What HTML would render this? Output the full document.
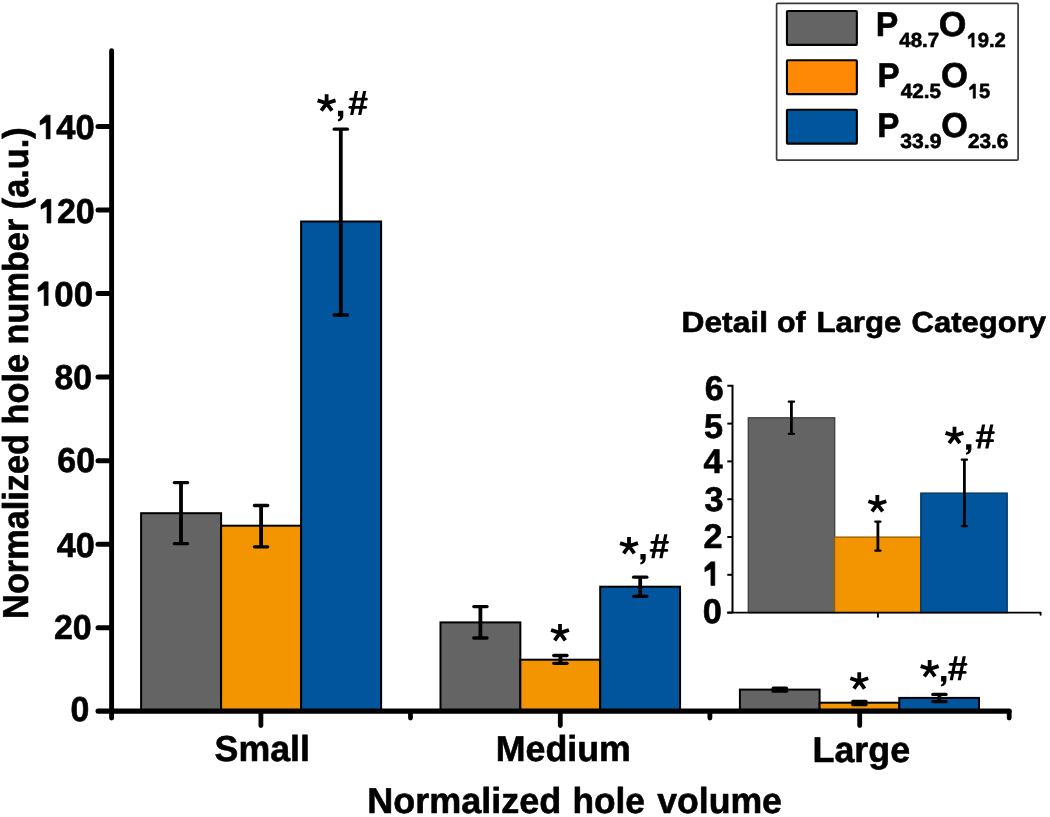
<!DOCTYPE html>
<html><head><meta charset="utf-8"><style>
html,body{margin:0;padding:0;background:#fff;}
svg{display:block;}
text{font-family:"Liberation Sans",sans-serif;font-weight:bold;fill:#000;text-rendering:geometricPrecision;stroke:#000;stroke-width:0.6px;stroke-linejoin:round;}
.g1{stroke:#000;stroke-width:0.6px;stroke-linejoin:round;}
</style></head><body>
<svg style="will-change:transform" width="1050" height="817" viewBox="0 0 1050 817">
<rect width="1050" height="817" fill="#fff"/>
<rect x="141.10" y="513.20" width="80" height="198.10" fill="#646464" stroke="#000" stroke-width="2"/>
<rect x="221.10" y="525.70" width="80" height="185.60" fill="#F39500" stroke="#000" stroke-width="2"/>
<rect x="301.10" y="221.50" width="80" height="489.80" fill="#00559C" stroke="#000" stroke-width="2"/>
<rect x="440.50" y="622.40" width="79.85" height="88.90" fill="#646464" stroke="#000" stroke-width="2"/>
<rect x="520.35" y="659.70" width="79.85" height="51.60" fill="#F39500" stroke="#000" stroke-width="2"/>
<rect x="600.20" y="586.70" width="79.85" height="124.60" fill="#00559C" stroke="#000" stroke-width="2"/>
<rect x="739.90" y="689.60" width="79.7" height="21.70" fill="#646464" stroke="#000" stroke-width="2"/>
<rect x="819.60" y="702.70" width="79.7" height="8.60" fill="#F39500" stroke="#000" stroke-width="2"/>
<rect x="899.30" y="697.90" width="79.7" height="13.40" fill="#00559C" stroke="#000" stroke-width="2"/>
<line x1="111.6" y1="50.8" x2="111.6" y2="718" stroke="#000" stroke-width="4.9" stroke-linecap="round"/>
<line x1="98" y1="711.1" x2="1009.2" y2="711.1" stroke="#000" stroke-width="5.1" stroke-linecap="round"/>
<line x1="98" y1="627.75" x2="111" y2="627.75" stroke="#000" stroke-width="5.0" stroke-linecap="round"/>
<line x1="98" y1="544.20" x2="111" y2="544.20" stroke="#000" stroke-width="5.0" stroke-linecap="round"/>
<line x1="98" y1="460.65" x2="111" y2="460.65" stroke="#000" stroke-width="5.0" stroke-linecap="round"/>
<line x1="98" y1="377.10" x2="111" y2="377.10" stroke="#000" stroke-width="5.0" stroke-linecap="round"/>
<line x1="98" y1="293.55" x2="111" y2="293.55" stroke="#000" stroke-width="5.0" stroke-linecap="round"/>
<line x1="98" y1="210.00" x2="111" y2="210.00" stroke="#000" stroke-width="5.0" stroke-linecap="round"/>
<line x1="98" y1="126.45" x2="111" y2="126.45" stroke="#000" stroke-width="5.0" stroke-linecap="round"/>
<line x1="260.9" y1="711.3" x2="260.9" y2="725.6" stroke="#000" stroke-width="4.8" stroke-linecap="round"/>
<line x1="560.3" y1="711.3" x2="560.3" y2="725.6" stroke="#000" stroke-width="4.8" stroke-linecap="round"/>
<line x1="859.7" y1="711.3" x2="859.7" y2="725.6" stroke="#000" stroke-width="4.8" stroke-linecap="round"/>
<line x1="410.5" y1="711.3" x2="410.5" y2="718.0" stroke="#000" stroke-width="4.8" stroke-linecap="round"/>
<line x1="709.9" y1="711.3" x2="709.9" y2="718.0" stroke="#000" stroke-width="4.8" stroke-linecap="round"/>
<line x1="1009.2" y1="711.3" x2="1009.2" y2="718.0" stroke="#000" stroke-width="4.8" stroke-linecap="round"/>
<line x1="181.0" y1="482.6" x2="181.0" y2="543.7" stroke="#000" stroke-width="3.8"/>
<line x1="174.40" y1="482.6" x2="187.60" y2="482.6" stroke="#000" stroke-width="3.3" stroke-linecap="round"/>
<line x1="174.40" y1="543.7" x2="187.60" y2="543.7" stroke="#000" stroke-width="3.3" stroke-linecap="round"/>
<line x1="261.1" y1="505.5" x2="261.1" y2="546.8" stroke="#000" stroke-width="3.8"/>
<line x1="254.50" y1="505.5" x2="267.70" y2="505.5" stroke="#000" stroke-width="3.3" stroke-linecap="round"/>
<line x1="254.50" y1="546.8" x2="267.70" y2="546.8" stroke="#000" stroke-width="3.3" stroke-linecap="round"/>
<line x1="340.8" y1="129.2" x2="340.8" y2="315.0" stroke="#000" stroke-width="3.8"/>
<line x1="334.20" y1="129.2" x2="347.40" y2="129.2" stroke="#000" stroke-width="3.3" stroke-linecap="round"/>
<line x1="334.20" y1="315.0" x2="347.40" y2="315.0" stroke="#000" stroke-width="3.3" stroke-linecap="round"/>
<line x1="480.4" y1="606.6" x2="480.4" y2="638.0" stroke="#000" stroke-width="3.8"/>
<line x1="473.80" y1="606.6" x2="487.00" y2="606.6" stroke="#000" stroke-width="3.3" stroke-linecap="round"/>
<line x1="473.80" y1="638.0" x2="487.00" y2="638.0" stroke="#000" stroke-width="3.3" stroke-linecap="round"/>
<line x1="560.4" y1="655.5" x2="560.4" y2="663.3" stroke="#000" stroke-width="3.8"/>
<line x1="553.80" y1="655.5" x2="567.00" y2="655.5" stroke="#000" stroke-width="3.3" stroke-linecap="round"/>
<line x1="553.80" y1="663.3" x2="567.00" y2="663.3" stroke="#000" stroke-width="3.3" stroke-linecap="round"/>
<line x1="640.2" y1="577.2" x2="640.2" y2="596.3" stroke="#000" stroke-width="3.8"/>
<line x1="633.60" y1="577.2" x2="646.80" y2="577.2" stroke="#000" stroke-width="3.3" stroke-linecap="round"/>
<line x1="633.60" y1="596.3" x2="646.80" y2="596.3" stroke="#000" stroke-width="3.3" stroke-linecap="round"/>
<line x1="779.8" y1="688.2" x2="779.8" y2="691.2" stroke="#000" stroke-width="3.8"/>
<line x1="773.20" y1="688.2" x2="786.40" y2="688.2" stroke="#000" stroke-width="3.3" stroke-linecap="round"/>
<line x1="773.20" y1="691.2" x2="786.40" y2="691.2" stroke="#000" stroke-width="3.3" stroke-linecap="round"/>
<line x1="859.4" y1="701.5" x2="859.4" y2="704.5" stroke="#000" stroke-width="3.8"/>
<line x1="852.80" y1="701.5" x2="866.00" y2="701.5" stroke="#000" stroke-width="3.3" stroke-linecap="round"/>
<line x1="852.80" y1="704.5" x2="866.00" y2="704.5" stroke="#000" stroke-width="3.3" stroke-linecap="round"/>
<line x1="939.4" y1="694.4" x2="939.4" y2="701.6" stroke="#000" stroke-width="3.8"/>
<line x1="932.80" y1="694.4" x2="946.00" y2="694.4" stroke="#000" stroke-width="3.3" stroke-linecap="round"/>
<line x1="932.80" y1="701.6" x2="946.00" y2="701.6" stroke="#000" stroke-width="3.3" stroke-linecap="round"/>
<g transform="translate(37.07,138.88)"><text x="0" y="0" font-size="34.5"> 40</text><path class="g1" d="M13.06,0.00L9.10,0.00L9.10,-16.80L3.03,-13.80L3.03,-18.08L9.10,-23.74L13.06,-23.74Z" fill="#000"/></g>
<g transform="translate(38.01,223.08) scale(0.9865,1)"><text x="0" y="0" font-size="34.5"> 20</text><path class="g1" d="M13.06,0.00L9.10,0.00L9.10,-16.80L3.03,-13.80L3.03,-18.08L9.10,-23.74L13.06,-23.74Z" fill="#000"/></g>
<g transform="translate(34.93,305.53) scale(1.0110,1)"><text x="0" y="0" font-size="34.5"> 00</text><path class="g1" d="M13.06,0.00L9.10,0.00L9.10,-16.80L3.03,-13.80L3.03,-18.08L9.10,-23.74L13.06,-23.74Z" fill="#000"/></g>
<text transform="translate(54.53,389.38) scale(0.9787,1)" font-size="34.5">80</text>
<text transform="translate(57.36,471.88) scale(0.9805,1)" font-size="34.5">60</text>
<text transform="translate(56.78,557.08) scale(0.9907,1)" font-size="34.5">40</text>
<text transform="translate(53.92,638.53) scale(0.9842,1)" font-size="34.5">20</text>
<text transform="translate(70.46,720.78) scale(0.9812,1)" font-size="34.5">0</text>
<text transform="translate(214.57,761.30) scale(0.9918,1)" font-size="36">Small</text>
<text transform="translate(495.71,761.20) scale(0.9934,1)" font-size="36">Medium</text>
<text transform="translate(812.50,761.80) scale(0.9958,1)" font-size="36">Large</text>
<text x="367.20" y="813.30" font-size="36">Normalized</text>
<text transform="translate(572.43,813.30) scale(0.9806,1)" font-size="36">hole</text>
<text transform="translate(657.16,813.30) scale(0.9899,1)" font-size="36">volume</text>
<text transform="translate(27.6,618.89) rotate(-90) scale(0.9526,1)" font-size="36">Normalized hole number (a.u.)</text>
<path d="M326.60,103.30L326.60,94.30M326.60,103.30L335.54,100.40M326.60,103.30L331.95,110.66M326.60,103.30L321.25,110.66M326.60,103.30L317.66,100.40" stroke="#000" stroke-width="3.8" fill="none"/><path d="M338.00,110.80L343.30,110.80L343.30,115.70C343.30,118.70 341.60,120.70 338.20,121.40L337.70,119.70C339.20,119.10 340.00,118.10 340.10,116.30L338.00,116.30Z" fill="#000"/><path d="M354.90,91.10L358.10,91.10L353.30,115.10L350.10,115.10ZM363.05,91.10L366.25,91.10L361.30,115.10L358.10,115.10Z" fill="#000"/><line x1="350.65" y1="99.20" x2="366.35" y2="99.20" stroke="#000" stroke-width="2.7" stroke-linecap="round"/><line x1="349.85" y1="107.30" x2="365.65" y2="107.30" stroke="#000" stroke-width="2.7" stroke-linecap="round"/>
<path d="M629.00,546.00L629.00,537.00M629.00,546.00L637.94,543.10M629.00,546.00L634.35,553.36M629.00,546.00L623.65,553.36M629.00,546.00L620.06,543.10" stroke="#000" stroke-width="3.8" fill="none"/><path d="M640.40,553.90L645.70,553.90L645.70,558.80C645.70,561.80 644.00,563.80 640.60,564.50L640.10,562.80C641.60,562.20 642.40,561.20 642.50,559.40L640.40,559.40Z" fill="#000"/><path d="M656.10,534.20L659.30,534.20L654.50,558.20L651.30,558.20ZM664.25,534.20L667.45,534.20L662.50,558.20L659.30,558.20Z" fill="#000"/><line x1="651.85" y1="542.30" x2="667.55" y2="542.30" stroke="#000" stroke-width="2.7" stroke-linecap="round"/><line x1="651.05" y1="550.40" x2="666.85" y2="550.40" stroke="#000" stroke-width="2.7" stroke-linecap="round"/>
<path d="M929.65,669.00L929.65,660.00M929.65,669.00L938.59,666.10M929.65,669.00L935.00,676.36M929.65,669.00L924.30,676.36M929.65,669.00L920.71,666.10" stroke="#000" stroke-width="3.8" fill="none"/><path d="M941.10,675.90L946.40,675.90L946.40,680.80C946.40,683.80 944.70,685.80 941.30,686.50L940.80,684.80C942.30,684.20 943.10,683.20 943.20,681.40L941.10,681.40Z" fill="#000"/><path d="M954.50,656.20L957.70,656.20L952.90,680.20L949.70,680.20ZM962.65,656.20L965.85,656.20L960.90,680.20L957.70,680.20Z" fill="#000"/><line x1="950.25" y1="664.30" x2="965.95" y2="664.30" stroke="#000" stroke-width="2.7" stroke-linecap="round"/><line x1="949.45" y1="672.40" x2="965.25" y2="672.40" stroke="#000" stroke-width="2.7" stroke-linecap="round"/>
<path d="M954.50,435.80L954.50,426.80M954.50,435.80L963.44,432.90M954.50,435.80L959.85,443.16M954.50,435.80L949.15,443.16M954.50,435.80L945.56,432.90" stroke="#000" stroke-width="3.8" fill="none"/><path d="M966.10,444.20L971.40,444.20L971.40,449.10C971.40,452.10 969.70,454.10 966.30,454.80L965.80,453.10C967.30,452.50 968.10,451.50 968.20,449.70L966.10,449.70Z" fill="#000"/><path d="M982.00,424.50L985.20,424.50L980.40,448.50L977.20,448.50ZM990.15,424.50L993.35,424.50L988.40,448.50L985.20,448.50Z" fill="#000"/><line x1="977.75" y1="432.60" x2="993.45" y2="432.60" stroke="#000" stroke-width="2.7" stroke-linecap="round"/><line x1="976.95" y1="440.70" x2="992.75" y2="440.70" stroke="#000" stroke-width="2.7" stroke-linecap="round"/>
<path d="M560.00,632.90L560.00,623.90M560.00,632.90L568.94,630.00M560.00,632.90L565.35,640.26M560.00,632.90L554.65,640.26M560.00,632.90L551.06,630.00" stroke="#000" stroke-width="3.8" fill="none"/>
<path d="M859.25,681.20L859.25,672.20M859.25,681.20L868.19,678.30M859.25,681.20L864.60,688.56M859.25,681.20L853.90,688.56M859.25,681.20L850.31,678.30" stroke="#000" stroke-width="3.8" fill="none"/>
<path d="M877.35,504.10L877.35,495.10M877.35,504.10L886.29,501.20M877.35,504.10L882.70,511.46M877.35,504.10L872.00,511.46M877.35,504.10L868.41,501.20" stroke="#000" stroke-width="3.8" fill="none"/>
<rect x="776.6" y="3.4" width="241.5" height="156.7" fill="#fff" stroke="#3a3a3a" stroke-width="1.7" rx="1"/>
<rect x="786.95" y="10.95" width="69.9" height="33.9" fill="#646464" stroke="#000" stroke-width="2.1" rx="0.8"/>
<rect x="786.95" y="60.25" width="69.9" height="33.9" fill="#FF8805" stroke="#000" stroke-width="2.1" rx="0.8"/>
<rect x="786.95" y="109.75" width="69.9" height="33.9" fill="#00559C" stroke="#000" stroke-width="2.1" rx="0.8"/>
<text transform="translate(875.64,36.10) scale(0.9783,1)" font-size="34.5">P</text>
<text x="899.29" y="47.10" font-size="20.5">48.7</text>
<text transform="translate(938.84,35.90) scale(1.0304,1)" font-size="34.5">O</text>
<g transform="translate(966.53,47.10) scale(0.9845,1)"><text x="0" y="0" font-size="20.5"> 9.2</text><path class="g1" d="M7.76,0.00L5.41,0.00L5.41,-9.98L1.80,-8.20L1.80,-10.74L5.41,-14.10L7.76,-14.10Z" fill="#000"/></g>
<text transform="translate(877.38,86.80) scale(0.9629,1)" font-size="34.5">P</text>
<text transform="translate(900.69,98.20) scale(1.0098,1)" font-size="20.5">42.5</text>
<text transform="translate(940.88,86.60) scale(1.0054,1)" font-size="34.5">O</text>
<g transform="translate(967.83,98.20) scale(0.9839,1)"><text x="0" y="0" font-size="20.5"> 5</text><path class="g1" d="M7.76,0.00L5.41,0.00L5.41,-9.98L1.80,-8.20L1.80,-10.74L5.41,-14.10L7.76,-14.10Z" fill="#000"/></g>
<text transform="translate(877.18,137.10) scale(0.9629,1)" font-size="34.5">P</text>
<text transform="translate(900.32,148.00) scale(1.0293,1)" font-size="20.5">33.9</text>
<text transform="translate(941.30,136.90) scale(0.9928,1)" font-size="34.5">O</text>
<text transform="translate(967.88,148.00) scale(1.0144,1)" font-size="20.5">23.6</text>
<rect x="748.3" y="417.8" width="86.4" height="194.80" fill="#646464" stroke="#3c3c3c" stroke-width="1.3"/>
<rect x="834.6" y="537.1" width="86.4" height="75.50" fill="#F39500" stroke="#9a5a00" stroke-width="1.3"/>
<rect x="920.8" y="493.1" width="86.4" height="119.50" fill="#00559C" stroke="#00335f" stroke-width="1.3"/>
<polyline points="727.3,385.80 732.5,385.80 732.5,612.6" fill="none" stroke="#000" stroke-width="2"/>
<line x1="727.2" y1="612.6" x2="1040.6" y2="612.6" stroke="#000" stroke-width="1.9"/>
<line x1="1040.6" y1="612.6" x2="1040.6" y2="614.8" stroke="#000" stroke-width="1.9" stroke-linecap="round"/>
<line x1="877.9" y1="612.6" x2="877.9" y2="617.6" stroke="#000" stroke-width="1.9"/>
<line x1="727.3" y1="612.60" x2="732.5" y2="612.60" stroke="#000" stroke-width="2"/>
<line x1="727.3" y1="574.80" x2="732.5" y2="574.80" stroke="#000" stroke-width="2"/>
<line x1="727.3" y1="537.00" x2="732.5" y2="537.00" stroke="#000" stroke-width="2"/>
<line x1="727.3" y1="499.20" x2="732.5" y2="499.20" stroke="#000" stroke-width="2"/>
<line x1="727.3" y1="461.40" x2="732.5" y2="461.40" stroke="#000" stroke-width="2"/>
<line x1="727.3" y1="423.60" x2="732.5" y2="423.60" stroke="#000" stroke-width="2"/>
<line x1="791.4" y1="401.7" x2="791.4" y2="433.8" stroke="#000" stroke-width="2.8"/>
<line x1="788.80" y1="401.7" x2="794.00" y2="401.7" stroke="#000" stroke-width="2.3" stroke-linecap="round"/>
<line x1="788.80" y1="433.8" x2="794.00" y2="433.8" stroke="#000" stroke-width="2.3" stroke-linecap="round"/>
<line x1="877.9" y1="521.7" x2="877.9" y2="550.7" stroke="#000" stroke-width="2.8"/>
<line x1="875.30" y1="521.7" x2="880.50" y2="521.7" stroke="#000" stroke-width="2.3" stroke-linecap="round"/>
<line x1="875.30" y1="550.7" x2="880.50" y2="550.7" stroke="#000" stroke-width="2.3" stroke-linecap="round"/>
<line x1="964.4" y1="459.7" x2="964.4" y2="526.1" stroke="#000" stroke-width="2.8"/>
<line x1="961.80" y1="459.7" x2="967.00" y2="459.7" stroke="#000" stroke-width="2.3" stroke-linecap="round"/>
<line x1="961.80" y1="526.1" x2="967.00" y2="526.1" stroke="#000" stroke-width="2.3" stroke-linecap="round"/>
<text x="704.70" y="399.91" font-size="34.3">6</text>
<text x="703.91" y="437.78" font-size="34.3">5</text>
<text x="703.59" y="473.05" font-size="34.3">4</text>
<text x="704.44" y="511.38" font-size="34.3">3</text>
<text x="703.40" y="547.82" font-size="34.3">2</text>
<g transform="translate(701.85,585.45)"><text x="0" y="0" font-size="34.3"> </text><path class="g1" d="M12.98,0.00L9.04,0.00L9.04,-16.70L3.01,-13.72L3.01,-17.97L9.04,-23.60L12.98,-23.60Z" fill="#000"/></g>
<text x="702.64" y="623.01" font-size="34.3">0</text>
<text transform="translate(681.48,332.00) scale(1.0950,1)" font-size="29">Detail</text>
<text transform="translate(776.91,332.00) scale(1.0496,1)" font-size="29">of</text>
<text transform="translate(816.41,332.00) scale(1.0771,1)" font-size="29">Large</text>
<text transform="translate(911.53,332.00) scale(1.0695,1)" font-size="29">Category</text>
</svg>
</body></html>
